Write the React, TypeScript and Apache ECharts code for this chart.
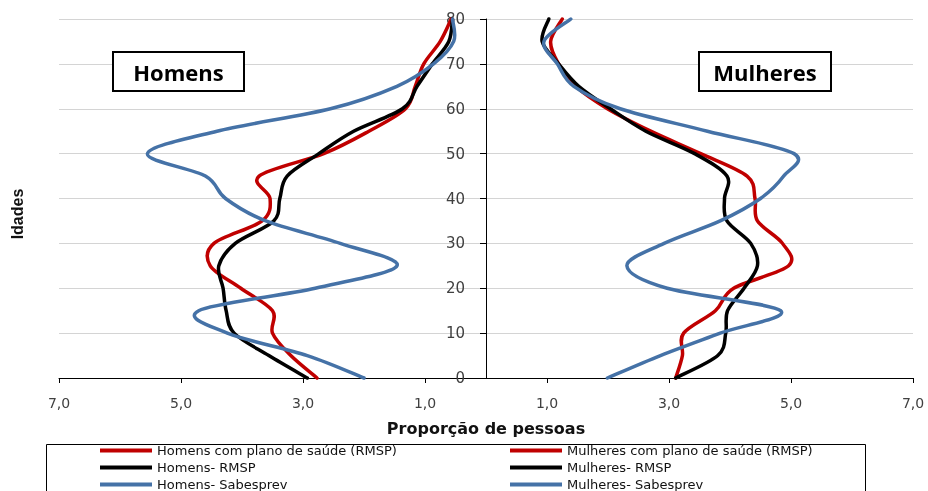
import { useEffect, useRef } from "react";
import * as echarts from "echarts";

// idades (eixo vertical), de 5 em 5 anos
const AGES = [0, 5, 10, 15, 20, 25, 30, 35, 40, 45, 50, 55, 60, 65, 70, 75, 80];

// proporção de pessoas (%) por idade — homens ficam à esquerda (valores negativos no gráfico)
const HOMENS_PLANO = [2.77, 3.2, 3.5, 3.5, 4.02, 4.52, 4.46, 3.67, 3.54, 3.72, 2.66, 1.92, 1.32, 1.16, 1.02, 0.75, 0.57];
const HOMENS_RMSP = [2.93, 3.56, 4.13, 4.26, 4.31, 4.38, 4.11, 3.48, 3.38, 3.26, 2.74, 2.17, 1.37, 1.13, 0.88, 0.61, 0.55];
const HOMENS_SABESPREV = [2.0, 2.93, 4.24, 4.71, 2.8, 1.46, 2.39, 3.61, 4.27, 4.6, 5.55, 4.41, 2.55, 1.46, 0.86, 0.53, 0.55];

const MULHERES_PLANO = [3.11, 3.22, 3.24, 3.76, 4.06, 4.96, 4.86, 4.45, 4.41, 4.28, 3.52, 2.7, 1.99, 1.47, 1.19, 1.06, 1.25];
const MULHERES_RMSP = [3.11, 3.8, 3.93, 3.96, 4.23, 4.45, 4.34, 3.95, 3.91, 3.95, 3.42, 2.62, 2.04, 1.52, 1.19, 0.92, 1.03];
const MULHERES_SABESPREV = [1.99, 2.86, 3.84, 4.83, 2.97, 2.31, 2.92, 3.84, 4.5, 4.88, 5.05, 3.63, 2.2, 1.44, 1.17, 0.95, 1.39];

const RED = "#C00000";
const BLACK = "#000000";
const BLUE = "#4572A7";

const SERIES = [
  { name: "Homens com plano de saúde (RMSP)", values: HOMENS_PLANO, side: -1, color: RED },
  { name: "Mulheres com plano de saúde (RMSP)", values: MULHERES_PLANO, side: 1, color: RED },
  { name: "Homens- RMSP", values: HOMENS_RMSP, side: -1, color: BLACK },
  { name: "Mulheres- RMSP", values: MULHERES_RMSP, side: 1, color: BLACK },
  { name: "Homens- Sabesprev", values: HOMENS_SABESPREV, side: -1, color: BLUE },
  { name: "Mulheres- Sabesprev", values: MULHERES_SABESPREV, side: 1, color: BLUE },
];

const LABEL_FONT = "DejaVu Sans";

// curva suavizada tipo Excel (Catmull-Rom) passando pelos pontos já convertidos em pixels
function smoothPath(pts: number[][]): string {
  let d = `M${pts[0][0]},${pts[0][1]}`;
  for (let i = 0; i < pts.length - 1; i++) {
    const p0 = pts[Math.max(i - 1, 0)];
    const p1 = pts[i];
    const p2 = pts[i + 1];
    const p3 = pts[Math.min(i + 2, pts.length - 1)];
    const c1x = p1[0] + (p2[0] - p0[0]) / 6;
    const c1y = p1[1] + (p2[1] - p0[1]) / 6;
    const c2x = p2[0] - (p3[0] - p1[0]) / 6;
    const c2y = p2[1] - (p3[1] - p1[1]) / 6;
    d += ` C${c1x},${c1y} ${c2x},${c2y} ${p2[0]},${p2[1]}`;
  }
  return d;
}

export default function App() {
  const ref = useRef<HTMLDivElement>(null);

  useEffect(() => {
    if (!ref.current) return;
    const chart = echarts.init(ref.current, undefined, { renderer: "svg" });

    const legendBase = {
      orient: "vertical",
      top: 444,
      padding: 0,
      itemWidth: 52,
      itemHeight: 4,
      itemGap: 4,
      icon: "rect",
      textStyle: { fontFamily: LABEL_FONT, fontSize: 13, color: "#111" },
    };

    chart.setOption({
      animation: false,
      grid: { left: 59, right: 15, top: 19, bottom: 113 },
      legend: [
        {
          ...legendBase,
          left: 100,
          data: SERIES.filter((s) => s.side < 0).map((s) => s.name),
        },
        {
          ...legendBase,
          left: 510,
          data: SERIES.filter((s) => s.side > 0).map((s) => s.name),
        },
      ],
      xAxis: {
        type: "value",
        min: -7,
        max: 7,
        interval: 2,
        name: "Proporção de pessoas",
        nameLocation: "middle",
        nameGap: 42,
        nameTextStyle: {
          fontFamily: LABEL_FONT,
          fontWeight: "bold",
          fontSize: 16,
          color: "#111",
        },
        axisLine: { lineStyle: { color: "#000", width: 1 } },
        axisTick: { length: 5, lineStyle: { color: "#000" } },
        axisLabel: {
          margin: 18,
          fontFamily: LABEL_FONT,
          fontSize: 14,
          color: "#404040",
          formatter: (v: number) => Math.abs(v).toFixed(1).replace(".", ","),
        },
        splitLine: { show: false },
      },
      yAxis: {
        type: "value",
        min: 0,
        max: 80,
        interval: 10,
        position: "left",
        // eixo das idades no centro (x = 0)
        offset: -427,
        axisLine: { show: true, onZero: false, lineStyle: { color: "#000", width: 1 } },
        axisTick: { show: true, length: 6, lineStyle: { color: "#000" } },
        axisLabel: {
          margin: 21,
          fontFamily: LABEL_FONT,
          fontSize: 15,
          color: "#404040",
        },
        splitLine: { lineStyle: { color: "#d4d4d4", width: 1 } },
      },
      series: SERIES.map((s) => ({
        name: s.name,
        type: "custom",
        itemStyle: { color: s.color },
        encode: { x: 0, y: 1 },
        data: AGES.map((age, i) => [s.side * s.values[i], age]),
        renderItem: (params: { dataIndex: number }, api: any) => {
          if (params.dataIndex !== 0) return null;
          const pts = AGES.map((age, i) => api.coord([s.side * s.values[i], age]));
          return {
            type: "path",
            shape: { pathData: smoothPath(pts) },
            style: {
              fill: "none",
              stroke: s.color,
              lineWidth: 3.5,
              lineJoin: "round",
              lineCap: "round",
            },
          };
        },
      })),
      graphic: [
        {
          type: "text",
          x: 17,
          y: 214,
          rotation: Math.PI / 2,
          style: {
            text: "Idades",
            font: "bold 16px 'Liberation Sans'",
            fill: "#111",
            align: "center",
            verticalAlign: "middle",
          },
        },
        {
          type: "rect",
          shape: { x: 113, y: 52, width: 131, height: 39 },
          style: { fill: "#fff", stroke: "#000", lineWidth: 2 },
          z: 10,
        },
        {
          type: "text",
          x: 178.5,
          y: 72,
          style: {
            text: "Homens",
            font: "bold 22px 'Open Sans'",
            fill: "#000",
            align: "center",
            verticalAlign: "middle",
          },
          z: 11,
        },
        {
          type: "rect",
          shape: { x: 699, y: 52, width: 132, height: 39 },
          style: { fill: "#fff", stroke: "#000", lineWidth: 2 },
          z: 10,
        },
        {
          type: "text",
          x: 765,
          y: 72,
          style: {
            text: "Mulheres",
            font: "bold 22px 'Open Sans'",
            fill: "#000",
            align: "center",
            verticalAlign: "middle",
          },
          z: 11,
        },
        {
          type: "rect",
          shape: { x: 46.5, y: 444.5, width: 819, height: 60 },
          style: { fill: "none", stroke: "#000", lineWidth: 1 },
        },
      ],
    });

    return () => {
      chart.dispose();
    };
  }, []);

  return (
    <div
      ref={ref}
      style={{ position: "fixed", left: 0, top: 0, width: 928, height: 491 }}
    />
  );
}
